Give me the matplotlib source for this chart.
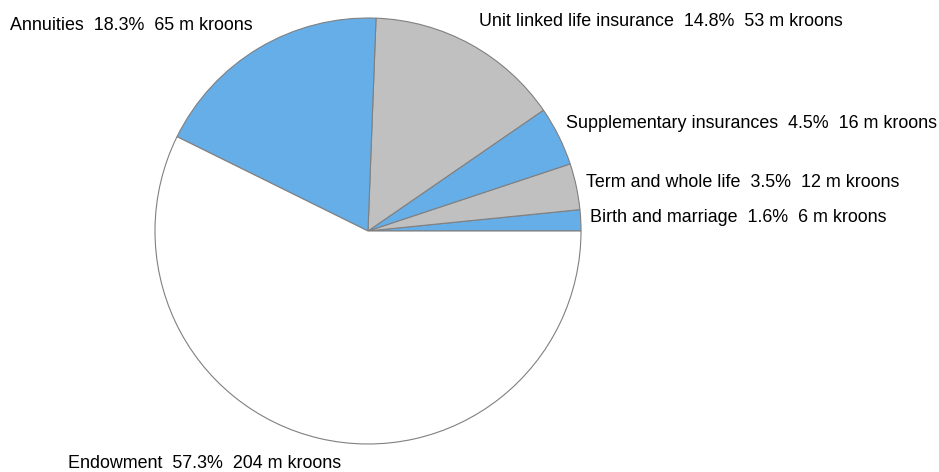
import matplotlib
matplotlib.use("Agg")
import matplotlib.pyplot as plt

plt.rcParams['font.family'] = ['Liberation Sans', 'DejaVu Sans']

categories = ["Birth and marriage", "Term and whole life", "Supplementary insurances",
              "Unit linked life insurance", "Annuities", "Endowment"]
shares = [1.6, 3.5, 4.5, 14.8, 18.3, 57.3]
amounts = [6, 12, 16, 53, 65, 204]
colors = ["#66aee8", "#c0c0c0", "#66aee8", "#c0c0c0", "#66aee8", "#ffffff"]

# label anchors in pixels (left edge, vertical centre), top-left origin
label_pos = [(590, 218), (586, 182), (566, 124), (479, 22), (10, 26), (68, 463)]

W, H = 939, 472
fig = plt.figure(figsize=(W / 100, H / 100), dpi=100)
cx, cy, r = 368, 231, 213
ax = fig.add_axes([(cx - r) / W, (H - cy - r) / H, 2 * r / W, 2 * r / H])
ax.pie(shares, colors=colors, startangle=0, counterclock=True, radius=1,
       wedgeprops=dict(edgecolor="#808080", linewidth=0.8))
ax.set_xlim(-1, 1)
ax.set_ylim(-1, 1)
ax.set_aspect("equal")
ax.axis("off")

for name, pct, amt, (px, py) in zip(categories, shares, amounts, label_pos):
    fig.text(px / W, 1 - py / H, f"{name}  {pct}%  {amt} m kroons",
             ha="left", va="center", fontsize=12.9, color="black")

fig.savefig("out.png", dpi=100, facecolor="white")
